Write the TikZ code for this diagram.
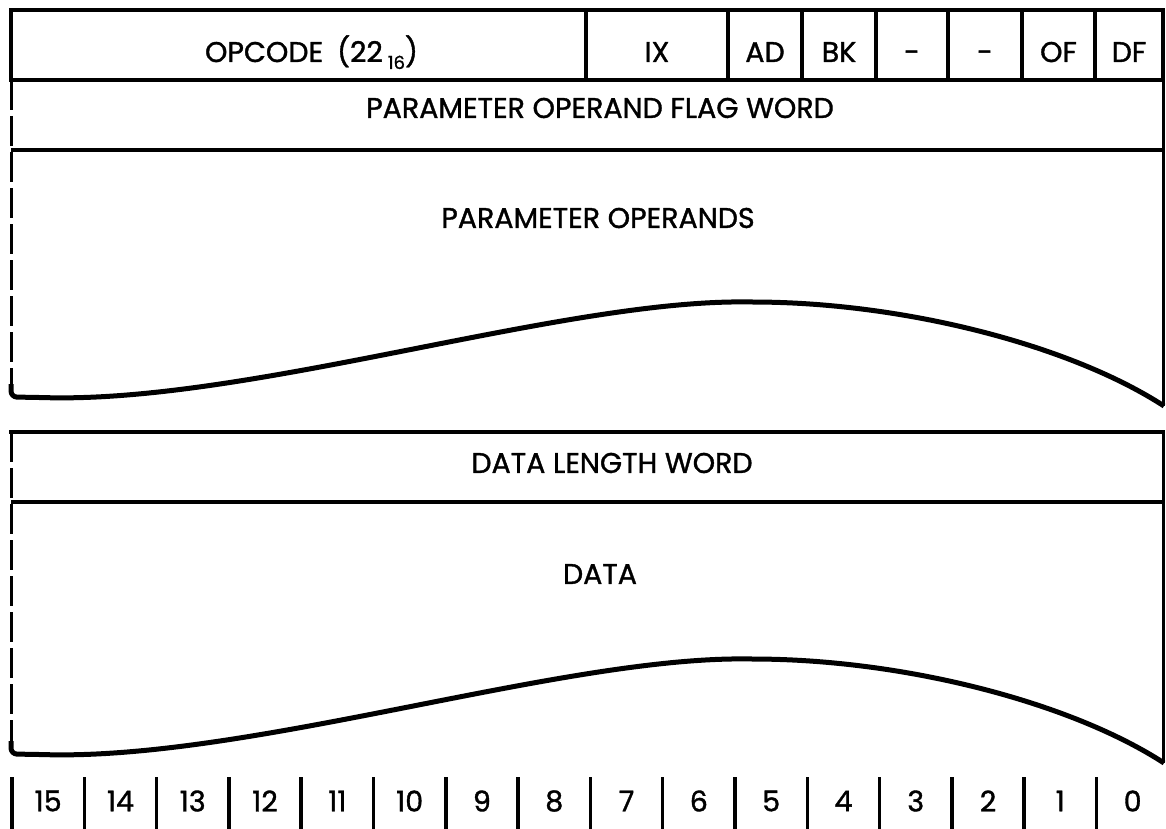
\documentclass[tikz,border=0pt]{standalone}
\usepackage{fontspec}
\setmainfont{Poppins}[FakeBold=1.2]
\usepackage{tikz}
\usetikzlibrary{positioning, calc}
\definecolor{inkblack}{RGB}{0, 0, 0}
\newcommand{\fieldfont}{\fontsize{28.5}{30}\selectfont}
\newcommand{\subfont}{\fontsize{18}{18}\selectfont}
\tikzstyle{field} = [rectangle, draw=inkblack, line width=4pt, minimum height=70pt, inner sep=0pt, text height=34pt, text depth=0pt, font=\fieldfont]
\tikzstyle{rowtext} = [inner sep=0pt, font=\fieldfont, text=inkblack]
\tikzstyle{edge} = [draw=inkblack, line width=4pt]
\tikzstyle{side} = [draw=inkblack, line width=3pt]
\tikzstyle{leftside} = [draw=inkblack, line width=3pt, dash pattern=on 30pt off 6pt]
\tikzstyle{wave} = [draw=inkblack, line width=5pt, line join=round, rounded corners=6pt]
\tikzstyle{bitbar} = [draw=inkblack, line width=3.5pt]

\begin{document}
\begin{tikzpicture}[x=1pt, y=-1pt]
    \useasboundingbox (0,0) rectangle (1166,829);

    % Instruction word
    \node[field, minimum width=575pt] (opcode) at (298.5,45) {\hspace{26pt}OPCODE\hspace{14pt}(22\hspace{5pt}\raisebox{-7pt}{\subfont 16})};
    \node[field, minimum width=142pt] (ixfield) at (657,45) {IX};
    \node[field, minimum width=74pt] (adflag) at (765,45) {AD};
    \node[field, minimum width=74pt] (bkflag) at (839,45) {BK};
    \node[field, minimum width=72pt] (spareone) at (912,45) {-};
    \node[field, minimum width=74pt] (sparetwo) at (985,45) {-};
    \node[field, minimum width=73pt] (offlag) at (1058.5,45) {OF};
    \node[field, minimum width=68pt] (dfflag) at (1129,45) {DF};

    % Parameter block
    \node[rowtext] (flagword) at (600,108) {PARAMETER OPERAND FLAG WORD};
    \node[rowtext] (operands) at (598,218) {PARAMETER OPERANDS};
    \draw[leftside] (11,80) -- (11,388);
    \draw[side] (1163,80) -- (1163,406);
    \draw[edge] (11,150) -- (1163,150);
    \draw[wave] (11,384) -- (11,397) -- (40,397.5) .. controls (250,403) and (560,300) .. (752,302) .. controls (905,303) and (1070,345) .. (1164,406);

    % Data block
    \node[rowtext] (lengthword) at (612,463) {DATA LENGTH WORD};
    \node[rowtext] (datatext) at (600,574) {DATA};
    \draw[edge] (9,432) -- (1165,432);
    \draw[edge] (11,502) -- (1163,502);
    \draw[leftside] (11,432) -- (11,745);
    \draw[side] (1163,432) -- (1163,763);
    \begin{scope}[shift={(0,357)}]
        \draw[wave] (11,384) -- (11,397) -- (40,397.5) .. controls (250,403) and (560,300) .. (752,302) .. controls (905,303) and (1070,345) .. (1164,406);
    \end{scope}

    % Bit numbers
    \foreach \i in {0,...,15} {
        \pgfmathtruncatemacro{\bitno}{15-\i}
        \draw[bitbar] ({12+72.3*\i},777) -- ({12+72.3*\i},829);
        \node[rowtext] (bit\bitno) at ({12+72.3*(\i+0.5)},801) {\bitno};
    }
\end{tikzpicture}
\end{document}
